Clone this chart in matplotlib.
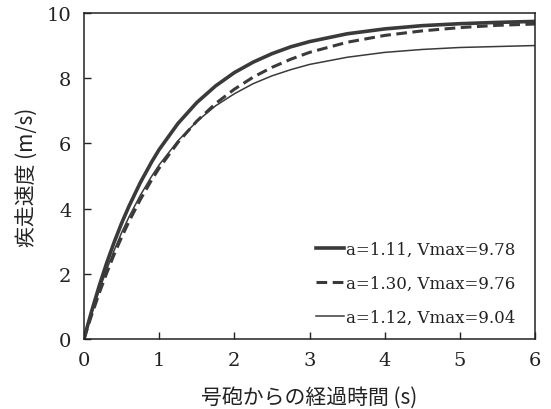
import numpy as np
import matplotlib
matplotlib.use('Agg')
import matplotlib.pyplot as plt

# time after the start signal (s)
t = [0, 0.05, 0.1, 0.2, 0.3, 0.4, 0.5, 0.6, 0.75, 0.9, 1.0, 1.25, 1.5, 1.75, 2.0,
     2.25, 2.5, 2.75, 3.0, 3.5, 4.0, 4.5, 5.0, 5.5, 6.0]

# running speed (m/s) for each runner
v_a111 = [0, 0.43, 0.84, 1.61, 2.32, 2.96, 3.55, 4.08, 4.80, 5.43, 5.81, 6.61, 7.25, 7.76, 8.17,
          8.49, 8.75, 8.96, 9.12, 9.36, 9.51, 9.61, 9.67, 9.71, 9.74]
v_a130 = [0, 0.37, 0.72, 1.39, 2.01, 2.59, 3.12, 3.61, 4.28, 4.88, 5.24, 6.03, 6.68, 7.22, 7.66,
          8.03, 8.33, 8.58, 8.79, 9.10, 9.31, 9.45, 9.55, 9.62, 9.66]
v_a112 = [0, 0.39, 0.77, 1.48, 2.12, 2.71, 3.26, 3.75, 4.41, 4.99, 5.34, 6.08, 6.67, 7.15, 7.52,
          7.83, 8.07, 8.26, 8.42, 8.64, 8.79, 8.88, 8.94, 8.97, 9.00]

labels = ['a=1.11, Vmax=9.78', 'a=1.30, Vmax=9.76', 'a=1.12, Vmax=9.04']

jp = ['Noto Sans CJK JP', 'DejaVu Sans']
serif = 'DejaVu Serif'
ink = '#3a3a3a'

fig = plt.figure(figsize=(5.51, 4.10), dpi=100)
ax = fig.add_axes([0.1525, 0.171, 0.8185, 0.795])

ax.plot(t, v_a111, color=ink, lw=2.6, label=labels[0])
ax.plot(t, v_a130, color=ink, lw=2.2, ls=(0, (3.5, 1.8)), label=labels[1])
ax.plot(t, v_a112, color=ink, lw=1.1, label=labels[2])

ax.set_xlim(0, 6)
ax.set_ylim(0, 10)
ax.set_xticks(np.arange(0, 7, 1))
ax.set_yticks(np.arange(0, 11, 2))

for s in ax.spines.values():
    s.set_linewidth(1.1)
    s.set_color('#222222')

ax.tick_params(direction='in', length=5, width=1.0, color='#222222', pad=9,
               labelsize=14, labelcolor='#222222')
for lab in ax.get_xticklabels() + ax.get_yticklabels():
    lab.set_family(serif)

ax.set_xlabel('号砲からの経過時間 (s)', family=jp, fontsize=15, color='#222222', labelpad=12)
ax.set_ylabel('疾走速度 (m/s)', family=jp, fontsize=15, color='#222222', labelpad=6)

leg = ax.legend(loc='lower right', bbox_to_anchor=(0.99, -0.005), frameon=False,
                handlelength=1.7, handletextpad=0.1, labelspacing=1.0,
                prop={'family': serif, 'size': 12})
for txt in leg.get_texts():
    txt.set_color('#222222')

fig.savefig('out.png', dpi=100)
